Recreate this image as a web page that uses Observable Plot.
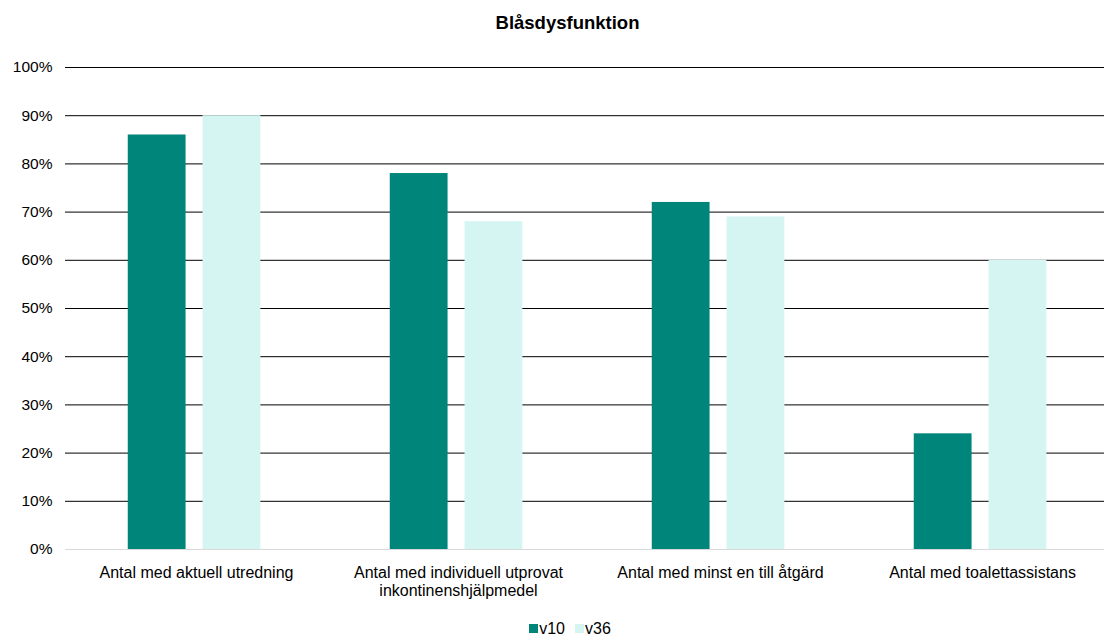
<!DOCTYPE html>
<html>
<head>
<meta charset="utf-8">
<script src="https://cdn.jsdelivr.net/npm/d3@7"></script>
<script src="https://cdn.jsdelivr.net/npm/@observablehq/plot@0.6"></script>
<style>
  html, body { margin: 0; padding: 0; background: #fff; }
  #wrap { width: 1104px; height: 639px; position: relative; overflow: hidden; font-family: "Liberation Sans", Arial, sans-serif; color: #000; }
  #title { height: 45px; line-height: 45px; text-align: center; font-weight: bold; font-size: 18.5px; padding-left: 31px; box-sizing: border-box; width: 1104px; }
  #chart { height: 566px; width: 1104px; overflow: hidden; }
  #chart svg { max-width: none !important; }
  #legend { display: flex; justify-content: center; align-items: center; padding-top: 15px; height: 20px; font-size: 16px; padding-left: 36px; width: 1104px; box-sizing: border-box; }
  .item { display: flex; align-items: center; margin: 0 5px; }
  .sw { width: 9px; height: 9px; margin-right: 1px; }
</style>
</head>
<body>
<div id="wrap">
  <div id="title">Blåsdysfunktion</div>
  <div id="chart"></div>
  <div id="legend"></div>
</div>
<script>
const categories = [
  "Antal med aktuell utredning",
  "Antal med individuell utprovat inkontinenshjälpmedel",
  "Antal med minst en till åtgärd",
  "Antal med toalettassistans"
];
const categoryLabels = [
  "Antal med aktuell utredning",
  "Antal med individuell utprovat\ninkontinenshjälpmedel",
  "Antal med minst en till åtgärd",
  "Antal med toalettassistans"
];
const series = ["v10", "v36"];
const v10 = [86, 78, 72, 24];
const v36 = [90, 68, 69, 60];
const yTicks = [0, 10, 20, 30, 40, 50, 60, 70, 80, 90, 100];
const colors = ["#00857a", "#d5f5f2"];

const table = [];
categories.forEach((c, i) => {
  table.push({category: c, series: "v10", value: v10[i]});
  table.push({category: c, series: "v36", value: v36[i]});
});
const labelOf = new Map(categories.map((c, i) => [c, categoryLabels[i]]));

const chart = Plot.plot({
  width: 1114,
  height: 566,
  marginTop: 22,
  marginBottom: 62,
  marginLeft: 63,
  marginRight: 0,
  style: { fontFamily: "Liberation Sans, Arial, sans-serif", fontSize: "16px", color: "#000", background: "#fff", maxWidth: "none" },
  fx: { domain: categories, padding: 0, label: null, axis: null },
  x: { domain: series, paddingInner: 0.227, paddingOuter: 0.865, align: 0.485, axis: null, round: false },
  y: { domain: [0, 100], axis: null },
  color: { domain: series, range: colors },
  marks: [
    Plot.ruleY(yTicks.filter(d => d > 0), { stroke: "#000", strokeWidth: 1 }),
    Plot.barY(table, { fx: "category", x: "series", y: "value", fill: "series" }),
    Plot.ruleY([0], { stroke: "#d9d9d9", strokeWidth: 1 }),
    Plot.axisY(yTicks, { tickSize: 0, tickPadding: 13, tickFormat: d => d + "%", fontSize: 15.5, label: null }),
    Plot.axisFx({ anchor: "bottom", tickSize: 0, tickPadding: 15, tickFormat: d => labelOf.get(d), lineHeight: 1.15, label: null, fontSize: 16 })
  ]
});
document.getElementById("chart").appendChild(chart);

const legend = document.getElementById("legend");
series.forEach((s, i) => {
  const it = document.createElement("div");
  it.className = "item";
  const sw = document.createElement("div");
  sw.className = "sw";
  sw.style.background = colors[i];
  const tx = document.createElement("span");
  tx.textContent = s;
  it.appendChild(sw);
  it.appendChild(tx);
  legend.appendChild(it);
});
</script>
</body>
</html>
